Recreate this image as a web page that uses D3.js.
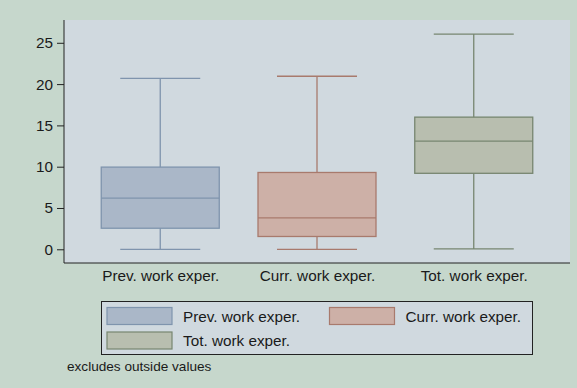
<!DOCTYPE html>
<html>
<head>
<meta charset="utf-8">
<script src="https://cdn.jsdelivr.net/npm/d3@7"></script>
<style>
body { margin: 0; background: #c6d7cc; }
svg { display: block; font-family: "Liberation Sans", Arial, sans-serif; }
</style>
</head>
<body>
<div id="chart"></div>
<script>
var categories = ["Prev. work exper.", "Curr. work exper.", "Tot. work exper."];
var lowWhisker = [0, 0, 0.05];
var q1 = [2.55, 1.55, 9.2];
var median = [6.2, 3.8, 13.1];
var q3 = [9.95, 9.3, 16.0];
var highWhisker = [20.7, 20.95, 26.05];
var yTicks = [0, 5, 10, 15, 20, 25];
var fills = ["#aab7c8", "#cdb0a7", "#b8beaf"];
var strokes = ["#7f94ad", "#a87a6d", "#778670"];
var note = "excludes outside values";

var width = 577, height = 388;
var mLeft = 64, mRight = 570, mTop = 20, mBottom = 263;
var fontSize = 15.3;

var svg = d3.select("#chart").append("svg")
    .attr("width", width)
    .attr("height", height);

svg.append("rect").attr("width", width).attr("height", height).attr("fill", "#c6d7cc");
svg.append("rect")
    .attr("x", mLeft).attr("y", mTop)
    .attr("width", mRight - mLeft).attr("height", mBottom - mTop)
    .attr("fill", "#d0d9df");

var y = d3.scaleLinear().domain([-1.66, 27.76]).range([mBottom, mTop]);
var x = d3.scalePoint().domain(categories).range([mLeft, mRight]).padding(0.614);

var boxW = 118, capW = 80;

var g = svg.selectAll(".box")
    .data(categories)
    .enter()
    .append("g")
    .attr("class", "box");

// whiskers
g.append("line")
    .attr("x1", function(d) { return x(d); })
    .attr("x2", function(d) { return x(d); })
    .attr("y1", function(d, i) { return y(highWhisker[i]); })
    .attr("y2", function(d, i) { return y(lowWhisker[i]); })
    .attr("stroke", function(d, i) { return strokes[i]; })
    .attr("stroke-width", 1.3);

g.each(function(d, i) {
    var el = d3.select(this);
    [highWhisker[i], lowWhisker[i]].forEach(function(v) {
        el.append("line")
            .attr("x1", x(d) - capW / 2).attr("x2", x(d) + capW / 2)
            .attr("y1", y(v)).attr("y2", y(v))
            .attr("stroke", strokes[i])
            .attr("stroke-width", 1.3);
    });
});

g.append("rect")
    .attr("x", function(d) { return x(d) - boxW / 2; })
    .attr("y", function(d, i) { return y(q3[i]); })
    .attr("width", boxW)
    .attr("height", function(d, i) { return y(q1[i]) - y(q3[i]); })
    .attr("fill", function(d, i) { return fills[i]; })
    .attr("stroke", function(d, i) { return strokes[i]; })
    .attr("stroke-width", 1.3);

g.append("line")
    .attr("x1", function(d) { return x(d) - boxW / 2; })
    .attr("x2", function(d) { return x(d) + boxW / 2; })
    .attr("y1", function(d, i) { return y(median[i]); })
    .attr("y2", function(d, i) { return y(median[i]); })
    .attr("stroke", function(d, i) { return strokes[i]; })
    .attr("stroke-width", 1.3);

// axes
var yAxis = svg.append("g")
    .attr("transform", "translate(" + mLeft + ",0)")
    .call(d3.axisLeft(y).tickValues(yTicks).tickSize(7).tickPadding(4));
yAxis.select(".domain").attr("d", "M0," + mTop + "V" + mBottom).attr("stroke", "#222");
yAxis.selectAll(".tick line").attr("stroke", "#222");
yAxis.selectAll("text").attr("font-size", fontSize).attr("fill", "#1a1a1a").attr("font-family", "Liberation Sans, Arial, sans-serif");

var xAxis = svg.append("g")
    .attr("transform", "translate(0," + mBottom + ")")
    .call(d3.axisBottom(x).tickSize(0).tickPadding(7));
xAxis.select(".domain").attr("d", "M" + mLeft + ",0H" + mRight).attr("stroke", "#222");
xAxis.selectAll("text").attr("font-size", fontSize).attr("fill", "#1a1a1a").attr("font-family", "Liberation Sans, Arial, sans-serif");

// legend
var legend = svg.append("g");
legend.append("rect")
    .attr("x", 101.5).attr("y", 301.5)
    .attr("width", 431).attr("height", 53)
    .attr("fill", "#d0d9df")
    .attr("stroke", "#222")
    .attr("stroke-width", 1);

var legPos = [[107, 307.5], [329.5, 307.5], [107, 332]];
var item = legend.selectAll(".legend")
    .data(categories)
    .enter()
    .append("g")
    .attr("class", "legend")
    .attr("transform", function(d, i) { return "translate(" + legPos[i][0] + "," + legPos[i][1] + ")"; });

item.append("rect")
    .attr("width", 65).attr("height", 17)
    .attr("fill", function(d, i) { return fills[i]; })
    .attr("stroke", function(d, i) { return strokes[i]; })
    .attr("stroke-width", 1.2);

item.append("text")
    .attr("x", 76).attr("y", 14)
    .attr("font-size", fontSize)
    .attr("fill", "#1a1a1a")
    .text(function(d) { return d; });

svg.append("text")
    .attr("x", 67).attr("y", 371)
    .attr("font-size", 13.6)
    .attr("fill", "#1a1a1a")
    .text(note);
</script>
</body>
</html>
